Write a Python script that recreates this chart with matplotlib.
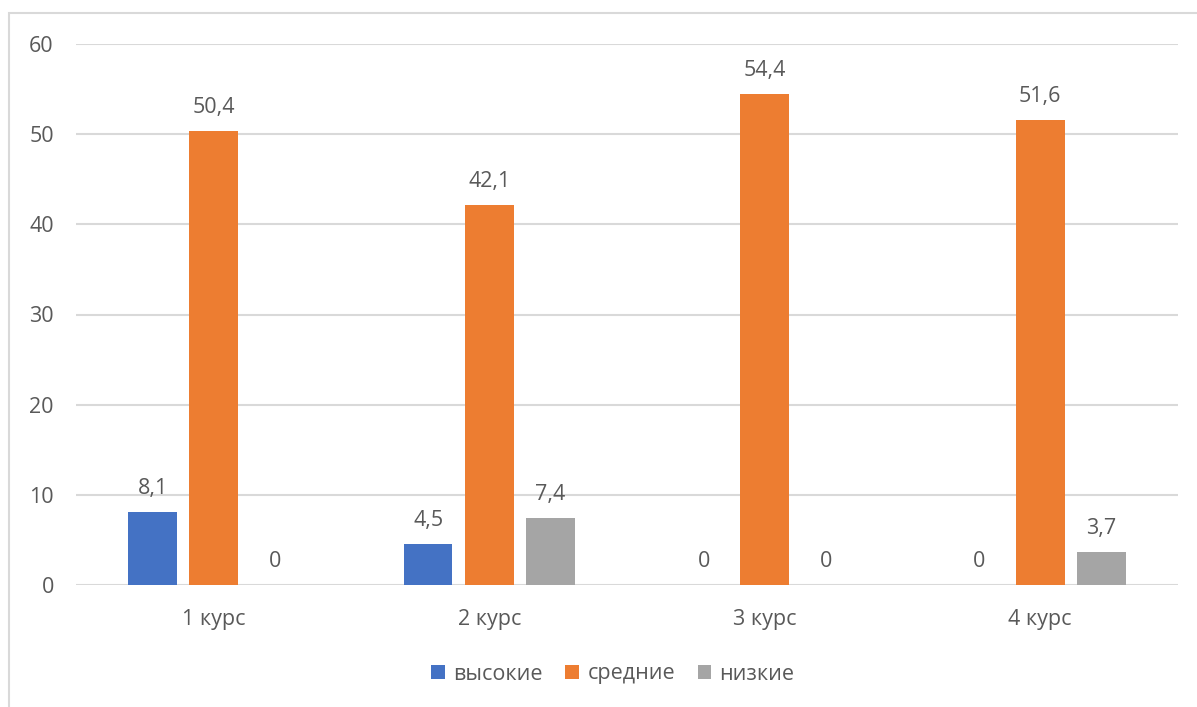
import matplotlib
matplotlib.use("Agg")
import matplotlib.pyplot as plt
from matplotlib.patches import Rectangle, Patch
import numpy as np

categories = ["1 курс", "2 курс", "3 курс", "4 курс"]
series_names = ["высокие", "средние", "низкие"]
vysokie = [8.1, 4.5, 0, 0]
srednie = [50.4, 42.1, 54.4, 51.6]
nizkie = [0, 7.4, 0, 3.7]
colors = ["#4472C4", "#ED7D31", "#A5A5A5"]
yticks = [0, 10, 20, 30, 40, 50, 60]

plt.rcParams['font.family'] = ['Open Sans', 'DejaVu Sans']
text_color = "#595959"
grid_color = "#D9D9D9"
fs = 15.5

W, H = 1197, 707
fig = plt.figure(figsize=(W / 100, H / 100), dpi=100)
fig.patch.set_facecolor("white")

# outer chart border (only top/left visible in the crop)
fig.patches.append(Rectangle((9 / W, -0.1), 1.2, 1 - 13 / H + 0.1,
                             transform=fig.transFigure, fill=False,
                             edgecolor=grid_color, linewidth=1.5))

ax = fig.add_axes([76 / W, 1 - 585 / H, (1178 - 76) / W, (585 - 44) / H])
ax.set_facecolor("none")

x = np.arange(len(categories))
width = 0.177
offset = 0.222
all_series = [vysokie, srednie, nizkie]
for i, (vals, name, col) in enumerate(zip(all_series, series_names, colors)):
    pos = x + (i - 1) * offset
    ax.bar(pos, vals, width=width, color=col, label=name, zorder=3)
    for px, v in zip(pos, vals):
        lbl = ("%g" % v).replace(".", ",")
        ax.annotate(lbl, (px, v), xytext=(0, 13), textcoords="offset points",
                    ha="center", va="baseline", fontsize=fs, color=text_color)

ax.set_xlim(-0.5, len(categories) - 0.5)
ax.set_ylim(0, 60)
ax.set_yticks(yticks)
ax.set_yticklabels([str(t) for t in yticks])
ax.set_xticks(x)
ax.set_xticklabels(categories)
ax.tick_params(axis="both", length=0, labelsize=fs, colors=text_color)
ax.tick_params(axis="y", pad=16)
ax.tick_params(axis="x", pad=17)
for s in ax.spines.values():
    s.set_visible(False)
ax.yaxis.grid(True, color=grid_color, linewidth=1.5, zorder=0)
ax.set_axisbelow(True)

handles = [Patch(facecolor=c, edgecolor="none") for c in colors]
leg = fig.legend(handles, series_names, loc="center",
                 bbox_to_anchor=(613 / W, 1 - 674 / H), ncol=3, frameon=False,
                 fontsize=fs, handlelength=0.62, handleheight=0.62,
                 handletextpad=0.4, columnspacing=1.05, labelcolor=text_color)

fig.savefig("out.png", dpi=100)
